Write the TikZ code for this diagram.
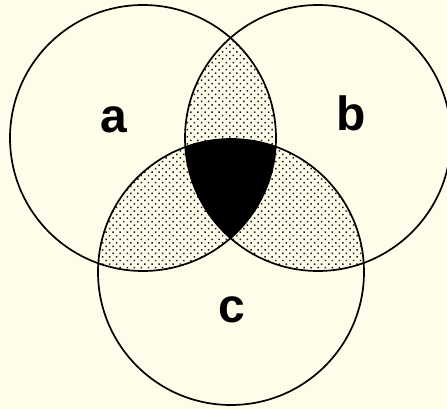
\documentclass[tikz,border=0pt]{standalone}
\usepackage{fontspec}
\setmainfont{Liberation Sans}
\usetikzlibrary{patterns.meta}
\definecolor{paper}{RGB}{254,253,234}
\tikzset{
  ring/.style={draw=black, line width=1.7pt},
  dotted region/.style={pattern={Dots[distance=5pt, radius=1.05pt, angle=45]}, pattern color=black!90},
  setlabel/.style={font=\fontsize{48}{48}\selectfont\bfseries, anchor=base, inner sep=0pt}
}
\begin{document}
\begin{tikzpicture}[x=1pt,y=-1pt]
\fill[paper] (0,0) rectangle (447,409);
\useasboundingbox (0,0) rectangle (447,409);
\coordinate (A) at (143,138);
\coordinate (B) at (318,138);
\coordinate (C) at (231,272);
\def\R{133}
% pairwise intersections
\begin{scope}
  \clip (A) circle (\R);
  \fill[dotted region] (B) circle (\R);
  \fill[dotted region] (C) circle (\R);
\end{scope}
\begin{scope}
  \clip (B) circle (\R);
  \fill[dotted region] (C) circle (\R);
\end{scope}
% triple intersection
\begin{scope}
  \clip (A) circle (\R);
  \clip (B) circle (\R);
  \fill[black] (C) circle (\R);
\end{scope}
\draw[ring] (A) circle (\R);
\draw[ring] (B) circle (\R);
\draw[ring] (C) circle (\R);
\node[setlabel] (la) at (114,132) {a};
\node[setlabel] (lb) at (351,131) {b};
\node[setlabel] (lc) at (232,322) {c};
\end{tikzpicture}
\end{document}
